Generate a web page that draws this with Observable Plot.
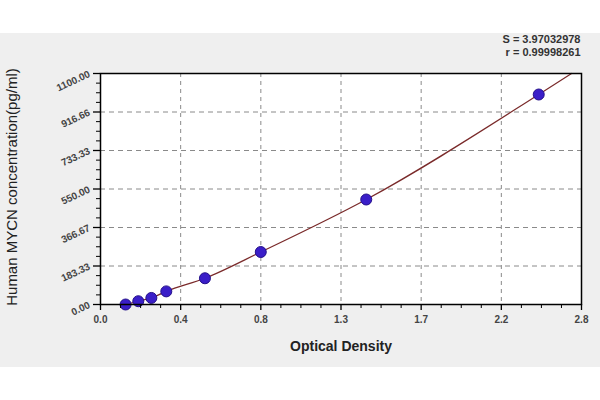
<!DOCTYPE html>
<html>
<head>
<meta charset="utf-8">
<script src="https://cdn.jsdelivr.net/npm/d3@7"></script>
<script src="https://cdn.jsdelivr.net/npm/@observablehq/plot@0.6"></script>
<style>
  html, body { margin: 0; padding: 0; background: white; }
  #chart {
    width: 600px; height: 400px;
    background: linear-gradient(to bottom, #ffffff 0px, #ffffff 33px, #efefef 33px, #efefef 367px, #ffffff 367px);
    font-family: "Liberation Sans", Arial, sans-serif;
  }
</style>
</head>
<body>
<div id="chart"></div>
<script>
// Data
const opticalDensity = [0.146, 0.22, 0.296, 0.383, 0.608, 0.933, 1.547, 2.551];
const concentration  = [0, 15.6, 31.25, 62.5, 125, 250, 500, 1000];
// fitted curve (through the standards, extended to the top of the frame)
const fitOD   = [0.146, 0.22, 0.296, 0.383, 0.608, 0.933, 1.547, 2.551, 2.742];
const fitConc = [0, 15.6, 31.25, 62.5, 125, 250, 500, 1000, 1100];

const xTickLabels = ["0.0", "0.4", "0.8", "1.3", "1.7", "2.2", "2.8"];
const yTickLabels = ["0.00", "183.33", "366.67", "550.00", "733.33", "916.66", "1100.00"];
const xMax = 2.8, yMax = 1100;
const statLines = ["S = 3.97032978", "r = 0.99998261"];
const xTitle = "Optical Density";
const yTitle = "Human MYCN concentration(pg/ml)";

const xTicks = xTickLabels.map((_, i) => i * xMax / (xTickLabels.length - 1));
const yTicks = yTickLabels.map((_, i) => i * yMax / (yTickLabels.length - 1));
const xMinor = [], yMinor = [];
for (let i = 0; i < xTicks.length - 1; i++) for (let k = 1; k < 4; k++) xMinor.push(xTicks[i] + k * (xTicks[1] - xTicks[0]) / 4);
for (let i = 0; i < yTicks.length - 1; i++) for (let k = 1; k < 4; k++) yMinor.push(yTicks[i] + k * (yTicks[1] - yTicks[0]) / 4);
const xLabel = new Map(xTicks.map((t, i) => [t, xTickLabels[i]]));
const yLabel = new Map(yTicks.map((t, i) => [t, yTickLabels[i]]));

const points = opticalDensity.map((x, i) => ({x, y: concentration[i]}));
const fit = fitOD.map((x, i) => ({x, y: fitConc[i]}));

const chart = Plot.plot({
  width: 600,
  height: 400,
  marginLeft: 100,
  marginRight: 19,
  marginTop: 73,
  marginBottom: 96,
  style: {background: "transparent", fontFamily: "Liberation Sans, Arial, sans-serif"},
  x: {domain: [0, xMax]},
  y: {domain: [0, yMax]},
  marks: [
    Plot.frame({fill: "white", stroke: null}),
    Plot.gridX(xTicks.slice(1, -1), {stroke: "#8a8a8a", strokeOpacity: 1, strokeDasharray: "4,4"}),
    Plot.gridY(yTicks.slice(1, -1), {stroke: "#8a8a8a", strokeOpacity: 1, strokeDasharray: "5,4"}),
    Plot.line(fit, {x: "x", y: "y", curve: "monotone-x", stroke: "#7a2a2a", strokeWidth: 1.2}),
    Plot.dot(points, {x: "x", y: "y", r: 5.5, fill: "#3a1ec8", stroke: "#24108a", strokeWidth: 1}),
    Plot.frame({stroke: "black", strokeWidth: 1.5}),
    // major/minor tick lines
    Plot.axisX({ticks: xTicks, tickSize: 6, text: null, label: null, stroke: "black", strokeWidth: 1.3}),
    Plot.axisX({ticks: xMinor, tickSize: 4, text: null, label: null, stroke: "black"}),
    Plot.axisY({ticks: yTicks, tickSize: 7, text: null, label: null, stroke: "black", strokeWidth: 1.3}),
    Plot.axisY({ticks: yMinor, tickSize: 4, text: null, label: null, stroke: "black"}),
    // tick labels
    Plot.axisX({ticks: xTicks, tickSize: 0, tickPadding: 11, tickFormat: d => xLabel.get(d), label: null,
      fill: "#444", fontWeight: "bold", fontSize: 10}),
    Plot.axisY({ticks: yTicks, tickSize: 0, tickPadding: 11, tickFormat: d => yLabel.get(d), label: null,
      rotate: -25, textAnchor: "end", fill: "#444", fontWeight: "bold", fontSize: 10}),
    // titles
    Plot.text([xTitle], {frameAnchor: "bottom", dy: 46, fontSize: 14, fontWeight: "bold", fill: "#222", text: d => d}),
    Plot.text([yTitle], {frameAnchor: "left", dx: -88, dy: -2, rotate: -90, textAnchor: "middle", lineAnchor: "middle",
      fontSize: 15, fill: "#222", text: d => d}),
    Plot.text([statLines[0]], {frameAnchor: "top-right", dx: -1, dy: -34, lineAnchor: "middle",
      text: d => d, textAnchor: "end", fontSize: 11, fontWeight: "bold", fill: "#333"}),
    Plot.text([statLines[1]], {frameAnchor: "top-right", dx: -1, dy: -21, lineAnchor: "middle",
      text: d => d, textAnchor: "end", fontSize: 11, fontWeight: "bold", fill: "#333"})
  ]
});
document.getElementById("chart").appendChild(chart);
</script>
</body>
</html>
